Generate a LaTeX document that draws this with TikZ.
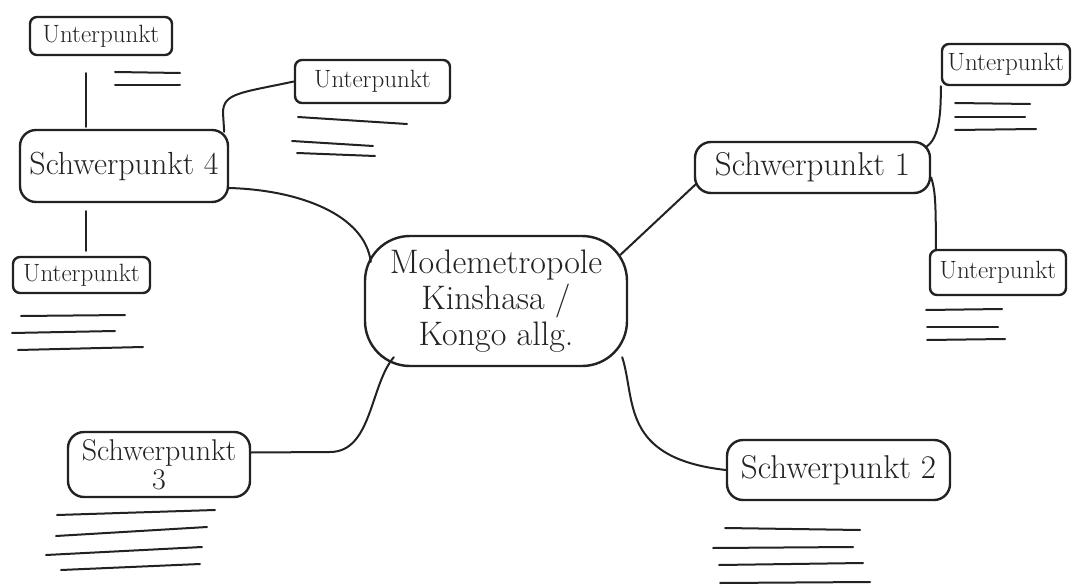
\documentclass[tikz,border=0pt]{standalone}
\usetikzlibrary{calc}
\definecolor{ink}{HTML}{222222}
\begin{document}
\begin{tikzpicture}[x=1pt,y=-1pt,
  every node/.style={draw=ink,line width=2.4pt,text=ink,inner sep=0pt,align=center},
  mainbox/.style={rounded corners=45pt,minimum width=262pt,minimum height=130pt,font=\fontsize{34}{36}\selectfont},
  spbox/.style={rounded corners=16pt,font=\fontsize{33}{36}\selectfont},
  upbox/.style={rounded corners=7pt,font=\fontsize{25}{28}\selectfont},
  link/.style={draw=ink,line width=2pt,line cap=round},
  scribble/.style={draw=ink,line width=2pt,line cap=round}]
\useasboundingbox[fill=white] (0,0) rectangle (1076,588);

% central node
\node[mainbox] (c) at (496,301) {Modemetropole\\Kinshasa /\\Kongo allg.};

% main branches
\node[spbox,minimum width=235pt,minimum height=51pt] (s1) at (812.5,167.5) {Schwerpunkt 1};
\node[spbox,minimum width=223pt,minimum height=60pt] (s2) at (838.5,470) {Schwerpunkt 2};
\node[spbox,minimum width=182pt,minimum height=65pt,font=\fontsize{30}{29}\selectfont] (s3) at (159,464.5) {Schwerpunkt\\3};
\node[spbox,minimum width=208pt,minimum height=72pt,font=\fontsize{32}{36}\selectfont] (s4) at (124,166) {Schwerpunkt 4};

% sub points
\node[upbox,minimum width=128pt,minimum height=41pt] (u1a) at (1006,64.5) {Unterpunkt};
\node[upbox,minimum width=136pt,minimum height=45pt] (u1b) at (998,272.5) {Unterpunkt};
\node[upbox,minimum width=142pt,minimum height=38pt] (u4a) at (101,36) {Unterpunkt};
\node[upbox,minimum width=155pt,minimum height=43pt] (u4b) at (372.5,81.5) {Unterpunkt};
\node[upbox,minimum width=137pt,minimum height=36pt] (u4c) at (81.5,275) {Unterpunkt};

% connectors from centre
\draw[link] ($(c.east)+(-8,-46)$) -- ($(s1.south west)+(2,-10)$);
\draw[link] ($(c.west)+(7,-39)$) .. controls (365,215) and (300,190) .. ($(s4.east)+(0,22)$);
\draw[link] ($(c.south west)+(30,-10)$) .. controls (370,385) and (372,452) .. (330,452) -- ($(s3.east)+(0,-12)$);
\draw[link] ($(c.south east)+(-6,-10)$) .. controls (636,400) and (620,458) .. (s2.west);

% connectors to sub points
\draw[link] ($(s1.north east)+(-5,6)$) .. controls (940,138) and (941,110) .. (u1a.south west);
\draw[link] ($(s1.east)+(0,10)$) .. controls (935,190) and (936,200) .. ($(u1b.north west)+(7,0)$);
\draw[link] ($(s4.north west)+(67,-2)$) -- ($(u4a.south west)+(57,17)$);
\draw[link] ($(s4.south west)+(67,8)$) -- ($(u4c.north west)+(74,-5)$);
\draw[link] ($(s4.north east)+(-5,3)$) -- (223,113) .. controls (223,93) and (240,93) .. (u4b.west);

% text lines (scribbles)
\draw[scribble] (115,72) -- (180,73);
\draw[scribble] (115,85) -- (180,85);

\draw[scribble] (298,117) -- (407,124);
\draw[scribble] (292,141) -- (373,146);
\draw[scribble] (297,153) -- (375,156);

\draw[scribble] (955,103) -- (1030,104);
\draw[scribble] (955,117) -- (1025,117);
\draw[scribble] (955,130) -- (1036,129);

\draw[scribble] (926,310) -- (1002,309);
\draw[scribble] (927,327) -- (998,327);
\draw[scribble] (927,340) -- (1005,339);

\draw[scribble] (21,316) -- (125,315);
\draw[scribble] (12,333) -- (115,331);
\draw[scribble] (18,350) -- (143,347);

\draw[scribble] (57,515) -- (215,510);
\draw[scribble] (56,536) -- (207,527);
\draw[scribble] (46,555) -- (202,547);
\draw[scribble] (61,570) -- (200,564);

\draw[scribble] (725,528) -- (860,530);
\draw[scribble] (713,548) -- (853,547);
\draw[scribble] (719,565) -- (863,563);
\draw[scribble] (720,583) -- (870,582);
\end{tikzpicture}
\end{document}
